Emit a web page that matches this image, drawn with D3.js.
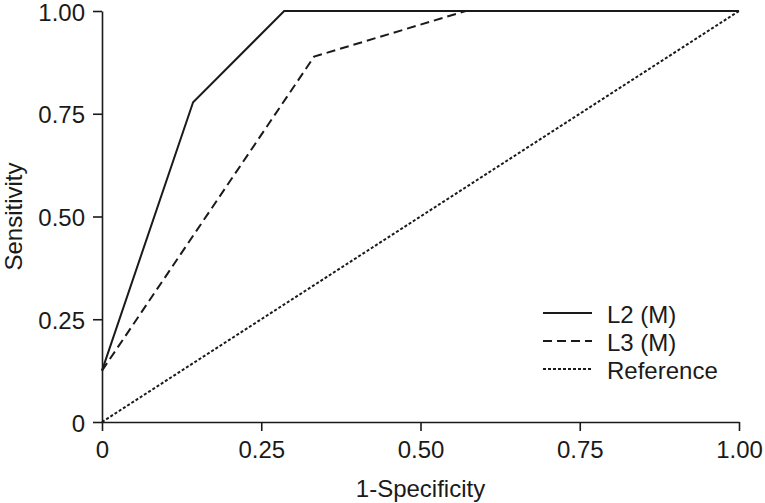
<!DOCTYPE html>
<html>
<head>
<meta charset="utf-8">
<script src="https://cdn.jsdelivr.net/npm/d3@7"></script>
<style>
  body { margin: 0; background: #fff; }
  svg text { font-family: "Liberation Sans", Arial, sans-serif; fill: #1a1a1a; }
  .axis path, .axis line { stroke: #1a1a1a; stroke-width: 1.6px; }
</style>
</head>
<body>
<div id="chart"></div>
<script>
// ROC curves - L2 (M), L3 (M) and the reference diagonal

// tick positions and labels (both axes)
var tickValues = [0, 0.25, 0.5, 0.75, 1];
var tickLabels = ["0", "0.25", "0.50", "0.75", "1.00"];

// series: 1-specificity (x) and sensitivity (y)
var l2Spec = [0, 0.143, 0.286, 1];
var l2Sens = [0.125, 0.778, 1, 1];

var l3Spec = [0, 0.333, 0.571, 1];
var l3Sens = [0.125, 0.889, 1, 1];

var refSpec = [0, 1];
var refSens = [0, 1];

var legendNames = ["L2 (M)", "L3 (M)", "Reference"];

var width = 765, height = 503;

var svg = d3.select("#chart").append("svg")
    .attr("width", width)
    .attr("height", height);

// * scales
var x = d3.scaleLinear().domain([0, 1]).range([102, 739]);
var y = d3.scaleLinear().domain([0, 1]).range([422, 11]);

// * axes
var xAxis = d3.axisBottom(x)
    .tickValues(tickValues)
    .tickFormat(function(d, i){ return tickLabels[i]; })
    .tickSizeInner(9)
    .tickSizeOuter(0)
    .tickPadding(10);

var yAxis = d3.axisLeft(y)
    .tickValues(tickValues)
    .tickFormat(function(d, i){ return tickLabels[i]; })
    .tickSizeInner(9)
    .tickSizeOuter(0)
    .tickPadding(8);

var gx = svg.append("g")
    .attr("class", "axis")
    .attr("transform", "translate(0," + y(0) + ")")
    .call(xAxis);

var gy = svg.append("g")
    .attr("class", "axis")
    .attr("transform", "translate(" + x(0) + ",0)")
    .call(yAxis);

svg.selectAll(".axis text")
    .style("font-size", "24px")
    .attr("fill", "#1a1a1a");
gy.selectAll("text").attr("dy", "0.38em");

// axis titles
svg.append("text")
    .attr("x", (x(0) + x(1)) / 2)
    .attr("y", 497)
    .attr("text-anchor", "middle")
    .style("font-size", "24px")
    .text("1-Specificity");

svg.append("text")
    .attr("transform", "translate(22," + (y(0) + y(1)) / 2 + ") rotate(-90)")
    .attr("text-anchor", "middle")
    .style("font-size", "24px")
    .text("Sensitivity");

// * lines
var line = d3.line()
    .x(function(d){ return x(d[0]); })
    .y(function(d){ return y(d[1]); });

function zipPts(a, b) {
    return a.map(function(v, i){ return [v, b[i]]; });
}

var series = [
    { pts: zipPts(l2Spec, l2Sens), dash: null },
    { pts: zipPts(l3Spec, l3Sens), dash: "9,5" },
    { pts: zipPts(refSpec, refSens), dash: "3,2" }
];

svg.selectAll(".roc")
    .data(series)
    .enter()
    .append("path")
    .attr("class", "roc")
    .attr("d", function(d){ return line(d.pts); })
    .attr("fill", "none")
    .attr("stroke", "#1a1a1a")
    .attr("stroke-width", 2)
    .attr("stroke-dasharray", function(d){ return d.dash; });

// * legend
var legend = svg.selectAll(".legend")
    .data(series)
    .enter()
    .append("g")
    .attr("class", "legend")
    .attr("transform", function(d, i){ return "translate(543," + (313 + i * 28) + ")"; });

legend.append("line")
    .attr("x1", 0).attr("x2", 49)
    .attr("y1", 0).attr("y2", 0)
    .attr("stroke", "#1a1a1a")
    .attr("stroke-width", 2)
    .attr("stroke-dasharray", function(d){ return d.dash; });

legend.append("text")
    .attr("x", 64)
    .attr("y", 10)
    .style("font-size", "24px")
    .text(function(d, i){ return legendNames[i]; });
</script>
</body>
</html>
